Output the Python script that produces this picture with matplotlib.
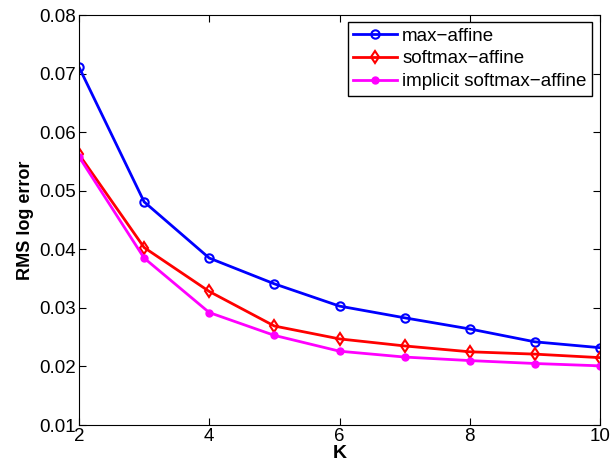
import numpy as np
import matplotlib.pyplot as plt

plt.rcParams['font.family'] = ['Liberation Sans', 'DejaVu Sans']

K = [2, 3, 4, 5, 6, 7, 8, 9, 10]
max_affine = [0.0711, 0.0481, 0.0385, 0.0341, 0.0303, 0.0283, 0.0264, 0.0242, 0.0232]
softmax_affine = [0.0562, 0.0403, 0.0328, 0.0269, 0.0247, 0.0235, 0.0225, 0.0221, 0.0215]
implicit_softmax = [0.0558, 0.0385, 0.0292, 0.0253, 0.0226, 0.0216, 0.0210, 0.0205, 0.0201]

fig = plt.figure(figsize=(6.11, 4.74), dpi=100)
ax = fig.add_axes([79/611, 1 - 425/474, (600-79)/611, (425-15)/474])

ax.plot(K, max_affine, color='blue', marker='o', markersize=6, markerfacecolor='none',
        markeredgewidth=1.5, linewidth=2, label='max\u2212affine')
ax.plot(K, softmax_affine, color='red', marker='d', markersize=6, markerfacecolor='none',
        markeredgewidth=1.5, linewidth=2, label='softmax\u2212affine')
ax.plot(K, implicit_softmax, color='magenta', marker='o', markersize=5,
        linewidth=2, label='implicit softmax\u2212affine')

ax.set_xlim(2, 10)
ax.set_ylim(0.01, 0.08)
ax.set_xticks([2, 4, 6, 8, 10])
ax.set_yticks(np.arange(0.01, 0.081, 0.01))
ax.set_yticklabels(['0.01', '0.02', '0.03', '0.04', '0.05', '0.06', '0.07', '0.08'])
ax.tick_params(direction='in', top=True, right=True, labelsize=13.5, length=5, pad=2)
ax.set_xlabel('K', fontsize=14, fontweight='bold', labelpad=0)
ax.set_ylabel('RMS log error', fontsize=13, fontweight='bold', labelpad=4)

leg = ax.legend(loc='upper right', fontsize=13.5, fancybox=False, edgecolor='black',
                framealpha=1, bbox_to_anchor=(0.985, 0.983), borderaxespad=0,
                handlelength=2.3, handletextpad=0.3, borderpad=0.3, labelspacing=0.3)
leg.get_frame().set_linewidth(1)

fig.savefig('out.png', dpi=100)
